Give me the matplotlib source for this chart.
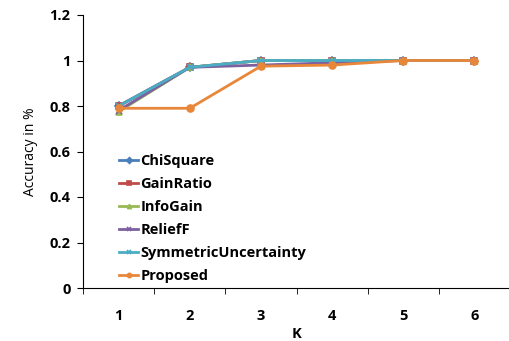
import matplotlib
matplotlib.use("Agg")
import matplotlib.pyplot as plt

k_values = [1, 2, 3, 4, 5, 6]
chi_square = [0.80, 0.97, 1.0, 1.0, 1.0, 1.0]
gain_ratio = [0.80, 0.97, 1.0, 1.0, 1.0, 1.0]
info_gain = [0.775, 0.97, 1.0, 1.0, 1.0, 1.0]
relief_f = [0.78, 0.97, 0.98, 0.99, 1.0, 1.0]
symmetric_uncertainty = [0.80, 0.97, 1.0, 1.0, 1.0, 1.0]
proposed = [0.79, 0.79, 0.975, 0.98, 1.0, 1.0]

series = [
    ("ChiSquare", chi_square, "#4A7EBB", "D", 4),
    ("GainRatio", gain_ratio, "#BE4B48", "s", 5),
    ("InfoGain", info_gain, "#98B954", "^", 5),
    ("ReliefF", relief_f, "#7D60A0", "x", 5),
    ("SymmetricUncertainty", symmetric_uncertainty, "#4BACC6", "x", 5),
    ("Proposed", proposed, "#E8873A", "o", 5),
]

plt.rcParams['font.family'] = ['Open Sans', 'DejaVu Sans']
fig = plt.figure(figsize=(5.10, 3.41), dpi=100)
ax = fig.add_axes([83/510, (341-288)/341, (510-83)/510, (288-15)/341])

for name, vals, color, marker, ms in series:
    ax.plot(k_values, vals, color=color, marker=marker, markersize=ms,
            linewidth=2, label=name, markeredgewidth=1.2)

ax.set_xlim(0.5, 6.5)
ax.set_ylim(0, 1.2)
ax.set_yticks([0, 0.2, 0.4, 0.6, 0.8, 1.0, 1.2])
ax.set_yticklabels(["0", "0.2", "0.4", "0.6", "0.8", "1", "1.2"], fontweight='bold')
ax.set_xticks(k_values)
ax.set_xticklabels([str(k) for k in k_values], fontweight='bold')
ax.set_xticks([0.5 + i for i in range(7)], minor=True)
ax.tick_params(axis='x', which='major', length=0, labelsize=10.5, pad=15)
ax.tick_params(axis='x', which='minor', length=4, direction='out')
ax.tick_params(axis='y', length=4, direction='out', labelsize=10.5, pad=5)
ax.spines['top'].set_visible(False)
ax.spines['right'].set_visible(False)
ax.set_xlabel("K", fontweight='bold', fontsize=10.5, labelpad=3)
ax.set_ylabel("Accuracy in %", fontsize=10, labelpad=8)

leg = ax.legend(loc='upper left', bbox_to_anchor=(0.085, 0.49), frameon=False,
                borderaxespad=0, borderpad=0,
                handlelength=1.3, handletextpad=0.15, labelspacing=0.62,
                prop={'weight': 'bold', 'size': 10.5, 'family': ['Open Sans', 'DejaVu Sans']})
for h in leg.legend_handles:
    h.set_markersize(3)

fig.savefig("out.png", dpi=100)
